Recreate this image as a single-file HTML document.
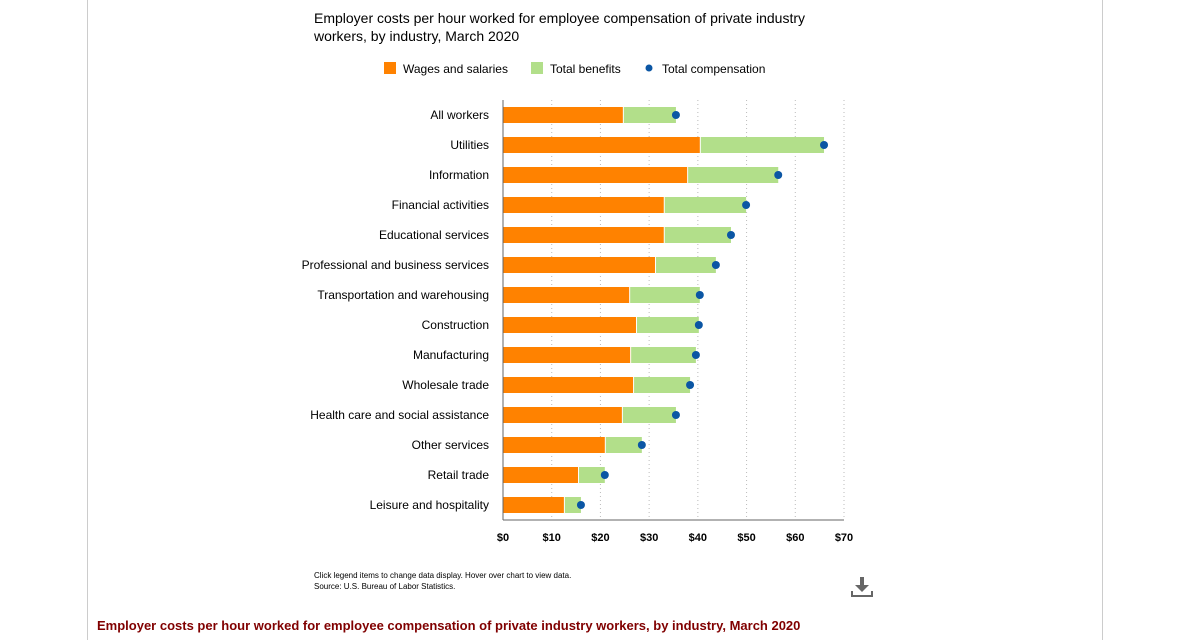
<!DOCTYPE html>
<html><head><meta charset="utf-8"><style>
body{margin:0;width:1192px;height:620px;overflow:hidden;background:#fff;font-family:"Liberation Sans",Arial,sans-serif;position:relative}
.frame{position:absolute;left:87px;top:0;width:1014px;height:640px;border-left:1px solid #ccc;border-right:1px solid #ccc}
.title{position:absolute;left:314px;top:9px;font-size:14px;line-height:18px;color:#000}
.note{position:absolute;left:314px;top:570px;font-size:8px;line-height:11px;color:#000}
.bottom{position:absolute;left:97px;top:618px;font-size:13px;font-weight:bold;color:#800000;white-space:nowrap}
</style></head><body>
<div class="frame"></div>
<div class="title">Employer costs per hour worked for employee compensation of private industry<br>workers, by industry, March 2020</div>
<svg id="c" width="1192" height="620" style="position:absolute;left:0;top:0"></svg>
<div class="note">Click legend items to change data display. Hover over chart to view data.<br>Source: U.S. Bureau of Labor Statistics.</div>
<svg style="position:absolute;left:850px;top:576px" width="24" height="22">
<rect x="10" y="1" width="4" height="9" fill="#666"/><polygon points="5,9 19,9 12,16" fill="#666"/>
<path d="M2,15 V20 H22 V15" stroke="#666" stroke-width="2" fill="none"/></svg>
<div class="bottom">Employer costs per hour worked for employee compensation of private industry workers, by industry, March 2020</div>
<script>
const categories=["All workers","Utilities","Information","Financial activities","Educational services","Professional and business services","Transportation and warehousing","Construction","Manufacturing","Wholesale trade","Health care and social assistance","Other services","Retail trade","Leisure and hospitality"];
const wages=[24.6,40.4,37.8,33.0,33.0,31.2,25.9,27.3,26.1,26.7,24.4,20.9,15.4,12.5];
const total=[35.5,65.9,56.5,49.9,46.8,43.7,40.4,40.2,39.6,38.4,35.5,28.5,20.9,16.0];
const ticks=[0,10,20,30,40,50,60,70];
const tickLabels=["$0","$10","$20","$30","$40","$50","$60","$70"];
const NS="http://www.w3.org/2000/svg",svg=document.getElementById('c');
const x0=503,x1=844,yTop=100,yBot=520;
const X=v=>x0+(v/70)*(x1-x0);
const Y=i=>115+i*30;
function mk(t,a,p){const e=document.createElementNS(NS,t);for(const k in a)e.setAttribute(k,a[k]);(p||svg).appendChild(e);return e;}
ticks.forEach((t,i)=>{
 if(t>0){const g=mk('line',{x1:X(t),x2:X(t),y1:yTop,y2:yBot,stroke:'#bbb','stroke-dasharray':'1,3'});
 
 }
 const l=mk('text',{x:X(t),y:541,'text-anchor':'middle','font-size':11,'font-weight':'bold',fill:'#000'});
 l.textContent=tickLabels[i];
 
 
});
categories.forEach((c,i)=>{
 const y=Y(i);
 const t=mk('text',{x:489,y:y+4,'text-anchor':'end','font-size':12,fill:'#000'});t.textContent=c;
 
 
 const w=mk('rect',{x:X(0),y:y-8,width:X(wages[i])-X(0),height:16,fill:'#ff8200'});
 
 
 const b=mk('rect',{x:X(wages[i])+1,y:y-8,width:Math.max(0,X(total[i])-X(wages[i])-1),height:16,fill:'#b2df8a'});
 
 
 const d=mk('circle',{cx:X(total[i]),cy:y,r:4,fill:'#0b56a4'});
 
 
});
const ax=mk('line',{x1:x0,x2:x0,y1:yTop,y2:yBot,stroke:'#666'});


const bx=mk('line',{x1:x0,x2:x1,y1:yBot,y2:yBot,stroke:'#666'});


const lg=[["Wages and salaries",'#ff8200',384,'rect'],["Total benefits",'#b2df8a',531,'rect'],["Total compensation",'#0b56a4',648,'dot']];
lg.forEach(l=>{
 const g=mk('g',{});
 
 
 if(l[3]=='rect')mk('rect',{x:l[2],y:62,width:12,height:12,fill:l[1]},g);
 else mk('circle',{cx:l[2]+1,cy:68,r:3.5,fill:l[1]},g);
 const t=mk('text',{x:l[2]+(l[3]=='rect'?19:14),y:73,'font-size':12,fill:'#000'},g);t.textContent=l[0];
});
</script>
</body></html>
